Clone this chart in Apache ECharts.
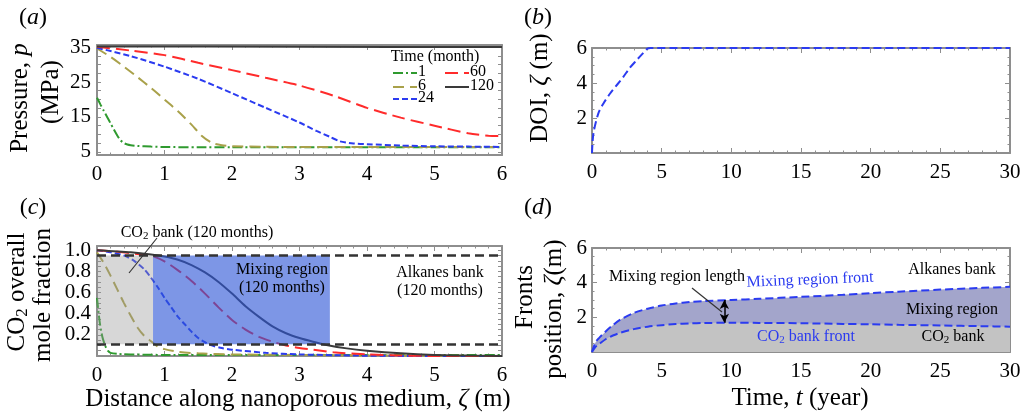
<!DOCTYPE html>
<html><head><meta charset="utf-8">
<script src="https://cdn.jsdelivr.net/npm/echarts@6/dist/echarts.min.js"></script>
<style>html,body{margin:0;padding:0;background:#fff}#c{width:1028px;height:415px}</style>
</head><body><div id="c"></div>
<script>
// ---------- Panel (a): pressure profiles (MPa) vs distance (m) ----------
const aMonths = ['1', '6', '24', '60', '120'];
const aX1  = [0,0.05,0.1,0.15,0.2,0.25,0.3,0.35,0.4,0.45,0.5,0.6,0.8,1,1.5,2,3,4,5,6];
const aP1  = [20.5,18.6,16.8,15.0,13.2,11.4,9.7,8.3,7.5,7.1,6.9,6.7,6.5,6.4,6.3,6.3,6.3,6.3,6.3,6.3];
const aX6  = [0,0.2,0.4,0.6,0.8,1.0,1.2,1.4,1.55,1.7,1.85,2.0,2.5,3,4,5,6];
const aP6  = [34.6,32.2,29.4,26.4,23.3,20.0,16.6,12.8,9.6,7.6,6.9,6.6,6.45,6.4,6.4,6.4,6.4];
const aX24 = [0,0.5,1,1.5,2,2.5,3,3.25,3.45,3.6,3.8,4,4.5,5,5.5,6];
const aP24 = [34.8,32.4,29.4,25.9,21.8,17.6,13.4,11.0,9.3,8.0,7.4,7.2,6.8,6.6,6.5,6.4];
const aX60 = [0,0.5,1,1.5,2,2.5,3,3.5,4,4.5,5,5.5,5.8,6];
const aP60 = [35.1,34.0,32.7,30.5,28.4,26.2,24.0,21.1,17.6,14.8,12.5,10.3,9.6,9.5];
const aX120 = [0,3,6];
const aP120 = [35.2,35.1,35.0];
const aYLabels = [5,15,25,35];

// ---------- Panel (b): depth of investigation vs time (year) ----------
const bT   = [0,0.1,0.45,0.8,1.3,1.8,2.25,2.7,3.2,3.6,3.95,4.2,10,20,30];
const bDOI = [0,1.1,2.25,2.8,3.4,3.9,4.35,4.85,5.3,5.65,5.95,6,6,6,6];

// ---------- Panel (c): CO2 overall mole fraction vs distance ----------
const cX1  = [0,0.04,0.08,0.12,0.16,0.2,0.3,0.5,1,2,4,6];
const cY1  = [0.55,0.32,0.18,0.1,0.05,0.03,0.02,0.015,0.01,0.01,0.01,0.01];
const cX6  = [0,0.1,0.2,0.3,0.4,0.5,0.6,0.7,0.8,0.9,1.0,1.2,1.5,2,3,4,6];
const cY6  = [0.98,0.88,0.76,0.63,0.5,0.38,0.27,0.19,0.14,0.09,0.065,0.04,0.025,0.015,0.01,0.005,0];
const cX24 = [0,0.2,0.4,0.55,0.7,0.8,0.9,1.0,1.1,1.2,1.3,1.4,1.5,1.6,1.7,1.85,2.0,2.5,3,3.5,4,5,6];
const cY24 = [1.0,0.98,0.95,0.9,0.82,0.74,0.65,0.55,0.46,0.37,0.3,0.23,0.17,0.13,0.1,0.075,0.06,0.03,0.015,0.008,0.003,0,0];
const cX60 = [0,0.3,0.6,0.8,1.0,1.2,1.4,1.6,1.8,2.0,2.2,2.4,2.6,2.8,3.0,3.2,3.5,4.0,4.5,5,6];
const cY60 = [1.0,0.985,0.965,0.95,0.895,0.81,0.71,0.59,0.46,0.34,0.25,0.18,0.135,0.1,0.075,0.06,0.035,0.015,0.005,0,0];
const cX120 = [0,0.5,0.8,1.0,1.2,1.4,1.6,1.8,2.0,2.2,2.4,2.6,2.8,3.0,3.2,3.4,3.7,4.0,4.5,5,5.5,6];
const cY120 = [1.0,0.98,0.96,0.94,0.91,0.86,0.79,0.7,0.59,0.47,0.37,0.28,0.215,0.17,0.135,0.105,0.072,0.05,0.025,0.01,0.004,0];
const cBankX = [0, 0.83, 3.45];   // CO2 bank | mixing region boundaries (120 months)
const cBankY = [0.11, 0.95];      // threshold mole fractions
const cYLabels = [0.2,0.4,0.6,0.8,1.0];

// ---------- Panel (d): fronts position vs time ----------
const dT   = [0,0.25,0.5,1,1.5,2,3,4,5,6,7,8,10,12,15,18,20,22,25,28,30];
const dMix = [0,0.55,0.8,1.2,1.55,1.85,2.25,2.5,2.68,2.8,2.88,2.94,3.0,3.07,3.18,3.3,3.4,3.48,3.6,3.7,3.76];
const dCO2 = [0,0.3,0.45,0.75,0.95,1.1,1.32,1.46,1.55,1.61,1.65,1.67,1.69,1.68,1.66,1.62,1.6,1.57,1.53,1.49,1.46];
const dArrowT = 9.5;

// ---------- styling ----------
const FONT = '"Liberation Serif", "Times New Roman", serif';
const FRAME = '#8e8e8e';
const STY = {
  '1':   {color: '#2f9a2f', dash: [10, 3, 2, 3]},
  '6':   {color: '#a9a14a', dash: [11, 6]},
  '24':  {color: '#2b3bf0', dash: [6, 3]},
  '60':  {color: '#ff2b2b', dash: [13, 6]},
  '120': {color: '#3a3a3a', dash: 'solid'}
};
const BLUE = '#2b3bf0';
const TICKFS = 21;

const zip = (xs, ys) => xs.map((x, i) => [x, ys[i]]);

function xPair(g, min, max, interval, split) {
  const base = {
    type: 'value', gridIndex: g, min, max, interval,
    axisLine: {show: true, onZero: false, lineStyle: {color: FRAME, width: 2}},
    axisTick: {show: true, inside: true, length: 5, lineStyle: {color: FRAME, width: 1}},
    minorTick: {show: true, splitNumber: split, length: 2.5, lineStyle: {color: FRAME, width: 1}},
    splitLine: {show: false}, minorSplitLine: {show: false}
  };
  return [
    Object.assign({}, base, {position: 'bottom',
      axisLabel: {show: true, color: '#000', fontFamily: FONT, fontSize: TICKFS, margin: 9}}),
    Object.assign({}, base, {position: 'top', axisLabel: {show: false}})
  ];
}
function yPairCustom(g, min, max, ticks, labels, fmt) {
  const base = {
    type: 'value', gridIndex: g, min, max,
    axisLine: {show: true, onZero: false, lineStyle: {color: FRAME, width: 2}},
    axisTick: {show: true, inside: true, length: 4, customValues: ticks, lineStyle: {color: FRAME, width: 1}},
    splitLine: {show: false}
  };
  return [
    Object.assign({}, base, {position: 'left',
      axisLabel: {show: true, customValues: labels, formatter: fmt, color: '#000', fontFamily: FONT, fontSize: TICKFS, margin: 6}}),
    Object.assign({}, base, {position: 'right', axisLabel: {show: false}})
  ];
}
function yPair(g, min, max, interval, split) {
  const base = {
    type: 'value', gridIndex: g, min, max, interval,
    axisLine: {show: true, onZero: false, lineStyle: {color: FRAME, width: 2}},
    axisTick: {show: true, inside: true, length: 5, lineStyle: {color: FRAME, width: 1}},
    minorTick: {show: true, splitNumber: split, length: 2.5, lineStyle: {color: FRAME, width: 1}},
    splitLine: {show: false}, minorSplitLine: {show: false}
  };
  return [
    Object.assign({}, base, {position: 'left',
      axisLabel: {show: true, color: '#000', fontFamily: FONT, fontSize: TICKFS, margin: 5,
        formatter: v => (v === 0 ? '' : String(v))}}),
    Object.assign({}, base, {position: 'right', axisLabel: {show: false}})
  ];
}

const range = (a, b, s) => { const r = []; for (let v = a; v <= b + 1e-9; v += s) r.push(+v.toFixed(4)); return r; };

const xAxis = [].concat(
  xPair(0, 0, 6, 1, 5),
  xPair(1, 0, 30, 5, 5),
  xPair(2, 0, 6, 1, 5),
  xPair(3, 0, 30, 5, 5)
);
const yAxis = [].concat(
  yPairCustom(0, 4.1, 35.6, range(5, 35, 2.5), aYLabels, v => String(v)),
  yPair(1, 0, 6, 2, 4),
  yPairCustom(2, 0, 1.04, range(0, 1, 0.05), cYLabels, v => v.toFixed(1)),
  yPair(3, 0, 6, 2, 4)
);

function lineSeries(g, data, sty, extra) {
  return Object.assign({
    type: 'line', xAxisIndex: 2 * g, yAxisIndex: 2 * g, data,
    symbol: 'none', smooth: 0.25, animation: false, silent: true, z: 2,
    lineStyle: {color: sty.color, width: 2, type: sty.dash}
  }, extra || {});
}

const aXs = [aX1, aX6, aX24, aX60, aX120], aYs = [aP1, aP6, aP24, aP60, aP120];
const cXs = [cX1, cX6, cX24, cX60, cX120], cYs = [cY1, cY6, cY24, cY60, cY120];

const series = [];
aMonths.forEach((m, i) => series.push(lineSeries(0, zip(aXs[i], aYs[i]), STY[m], {name: m})));
series.push(lineSeries(1, zip(bT, bDOI), {color: BLUE, dash: [8, 4]}, {smooth: 0.3}));
aMonths.forEach((m, i) => series.push(lineSeries(2, zip(cXs[i], cYs[i]), STY[m])));
// overlay regions and threshold lines for panel (c)
series.push({
  type: 'line', xAxisIndex: 4, yAxisIndex: 4, data: [], silent: true, z: 10, animation: false,
  markArea: {
    z: 10, silent: true, animation: false,
    data: [
      [{coord: [cBankX[0], cBankY[0]], itemStyle: {color: 'rgba(150,150,150,0.38)'}}, {coord: [cBankX[1], cBankY[1]]}],
      [{coord: [cBankX[1], cBankY[0]], itemStyle: {color: 'rgba(45,85,215,0.62)'}}, {coord: [cBankX[2], cBankY[1]]}]
    ]
  },
  markLine: {
    z: 11, silent: true, animation: false, symbol: ['none', 'none'], label: {show: false},
    lineStyle: {color: '#333', width: 2.5, type: [9, 5]},
    data: [{yAxis: cBankY[0]}, {yAxis: cBankY[1]}]
  }
});
// panel (d) fronts
series.push(lineSeries(3, zip(dT, dMix), {color: BLUE, dash: [8, 4]},
  {z: 2, smooth: 0.3, lineStyle: {color: BLUE, width: 2, type: [8, 4]}, areaStyle: {color: '#a3a5cb', opacity: 1}}));
series.push(lineSeries(3, zip(dT, dCO2), {color: BLUE, dash: [8, 4]},
  {z: 3, smooth: 0.3, lineStyle: {color: BLUE, width: 2, type: [8, 4]}, areaStyle: {color: '#c3c3c3', opacity: 1},
   markLine: {
     silent: true, animation: false, symbol: ['arrow', 'arrow'], symbolSize: [7, 9], label: {show: false},
     lineStyle: {color: '#000', width: 1.5, type: 'solid'},
     data: [[{coord: [dArrowT, dCO2[12]]}, {coord: [dArrowT, dMix[12]]}]]
   }}));

// ---------- text / annotations ----------
function txt(x, y, text, size, opts) {
  opts = opts || {};
  const s = size;
  return {
    type: 'text', x, y, rotation: opts.rot || 0, silent: true, z: 100,
    style: {
      text, fill: opts.color || '#000', fontFamily: FONT, fontSize: s,
      align: opts.align || 'center', verticalAlign: 'middle',
      rich: {
        i: {fontStyle: 'italic', fontFamily: FONT, fontSize: s, fill: opts.color || '#000'},
        sub: {fontFamily: FONT, fontSize: Math.round(s * 0.68), fill: opts.color || '#000', padding: [Math.round(s * 0.45), 0, 0, 0]},
        n: {fontFamily: FONT, fontSize: s, fill: opts.color || '#000'}
      }
    }
  };
}
const R = Math.PI / 2;
const graphic = [
  txt(33, 18, '({i|a})', 24), txt(538, 18, '({i|b})', 24),
  txt(33, 208, '({i|c})', 24), txt(538, 208, '({i|d})', 24),
  txt(20, 98, 'Pressure, {i|p}', 25, {rot: R}),
  txt(51, 92, '(MPa)', 25, {rot: R}),
  txt(540, 88, 'DOI, {i|ζ} (m)', 25, {rot: R}),
  txt(17, 292, '{n|CO}{sub|2}{n| overall}', 25, {rot: R}),
  txt(43, 295, 'mole fraction', 25, {rot: R}),
  txt(298, 399, 'Distance along nanoporous medium, {i|ζ} (m)', 25),
  txt(525, 297, 'Fronts', 25, {rot: R}),
  txt(554, 309, 'position, {i|ζ}(m)', 25, {rot: R}),
  txt(800, 398, 'Time, {i|t} (year)', 25),
  // panel (c) annotations
  txt(197, 233, '{n|CO}{sub|2}{n| bank (120 months)}', 16),
  txt(282, 270, 'Mixing region', 16), txt(282, 288, '(120 months)', 16),
  txt(440, 273, 'Alkanes bank', 16), txt(440, 291, '(120 months)', 16),
  {type: 'line', silent: true, z: 100, shape: {x1: 157, y1: 238, x2: 129, y2: 273}, style: {stroke: '#333', lineWidth: 1.2}},
  // panel (d) annotations
  txt(677, 277, 'Mixing region length', 16),
  {type: 'line', silent: true, z: 100, shape: {x1: 692, y1: 288, x2: 722, y2: 312}, style: {stroke: '#333', lineWidth: 1.2}},
  txt(810, 280, 'Mixing region front', 16, {color: BLUE, rot: 0.04}),
  txt(952, 270, 'Alkanes bank', 16),
  txt(952, 310, 'Mixing region', 16),
  txt(806, 337, '{n|CO}{sub|2}{n| bank front}', 16, {color: BLUE}),
  txt(953, 337, '{n|CO}{sub|2}{n| bank}', 16),
  // legend of panel (a)
  txt(435, 57, 'Time (month)', 16)
];
const legendPos = {'1': [393, 73], '6': [393, 87], '24': [393, 99], '60': [445, 73], '120': [445, 87]};
aMonths.forEach(m => {
  const p = legendPos[m], st = STY[m];
  graphic.push({type: 'line', silent: true, z: 100, shape: {x1: p[0], y1: p[1], x2: p[0] + 24, y2: p[1]},
    style: {stroke: st.color, lineWidth: 2, lineDash: st.dash === 'solid' ? null : st.dash}});
  graphic.push(txt(p[0] + 25, p[1] - 1, m, 16, {align: 'left'}));
});

const chart = echarts.init(document.getElementById('c'), null, {renderer: 'canvas'});
chart.setOption({
  backgroundColor: '#fff',
  animation: false,
  grid: [
    {left: 97, top: 45, width: 405, height: 110},
    {left: 592, top: 48, width: 418, height: 105},
    {left: 97, top: 246, width: 405, height: 110},
    {left: 592, top: 248, width: 418, height: 104}
  ],
  xAxis, yAxis, series, graphic
});
</script></body></html>
